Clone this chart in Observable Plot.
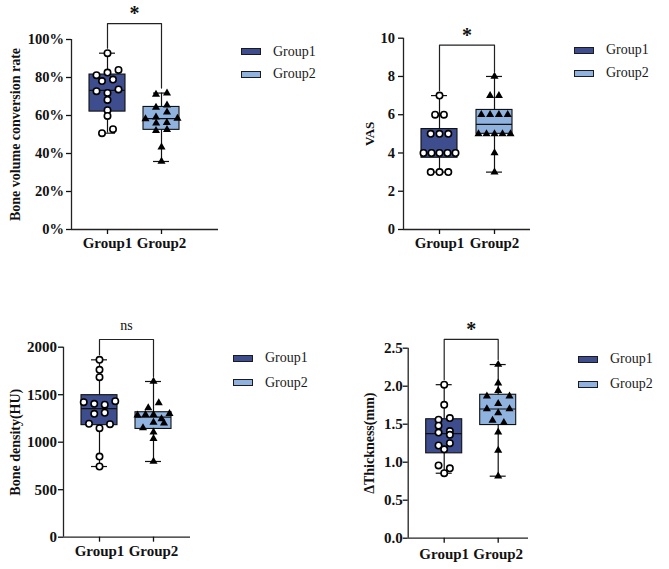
<!DOCTYPE html>
<html><head><meta charset="utf-8">
<script src="https://cdn.jsdelivr.net/npm/d3@7"></script>
<script src="https://cdn.jsdelivr.net/npm/@observablehq/plot@0.6"></script>
<style>
body{margin:0;background:#fff;}
#fig{position:relative;width:669px;height:569px;overflow:hidden;font-family:"Liberation Serif","Times New Roman",serif;background:#fff;}
.sw{position:absolute;width:18px;height:5px;border:1px solid #1b1b1b;}
.lt{position:absolute;font-size:14px;line-height:14px;color:#1a1a1a;white-space:nowrap;}
</style></head><body><div id="fig"></div>
<script>
// ---------- data ----------
const groups = ["Group1", "Group2"];
const groupColors = ["#3d4d8d", "#8fb2de"];

const boneVolG1 = [92.8, 81.2, 82.6, 84.0, 78.1, 78.9, 72.8, 71.9, 73.7, 68.2, 62.8, 59.8, 50.7, 52.8];
const boneVolG2 = [71.1, 71.8, 64.2, 65.4, 59.1, 61.8, 58.2, 56.0, 56.2, 58.5, 52.0, 52.6, 43.3, 35.8];

const vasG1 = [7, 6, 6, 5, 5, 5, 4, 4, 4, 4, 4, 3, 3, 3];
const vasG2 = [8, 7, 7, 6, 6, 6, 6, 5, 5, 5, 5, 5, 4, 3];

const densityG1 = [1867, 1762, 1684, 1421, 1404, 1395, 1432, 1299, 1310, 1194, 1148, 1190, 849, 744];
const densityG2 = [1639, 1362, 1414, 1285, 1291, 1291, 1245, 1300, 1151, 1207, 1200, 1105, 1036, 797];

const thickG1 = [2.02, 1.755, 1.56, 1.58, 1.48, 1.41, 1.39, 1.36, 1.22, 1.25, 1.17, 0.957, 0.92, 0.855];
const thickG2 = [2.285, 2.04, 1.87, 1.94, 1.87, 1.70, 1.77, 1.70, 1.65, 1.55, 1.52, 1.395, 1.154, 0.816];

const boneVolTicks = [0, 20, 40, 60, 80, 100];
const vasTicks = [0, 2, 4, 6, 8, 10];
const densityTicks = [0, 500, 1000, 1500, 2000];
const thickTicks = [0, 0.5, 1.0, 1.5, 2.0, 2.5];

const titles = ["Bone volume conversion rate", "VAS", "Bone density(HU)", "\u0394Thickness(mm)"];
const sigLabels = ["*", "*", "ns", "*"];
const sigLevels = [108.4, 9.64, 2081, 2.615];

// ---------- helpers ----------
function quantile6(s, p) {
  const n = s.length, h = (n + 1) * p, lo = Math.floor(h);
  if (lo < 1) return s[0];
  if (lo >= n) return s[n - 1];
  return s[lo - 1] + (h - lo) * (s[lo] - s[lo - 1]);
}
// row-centred scatter offsets in px (GraphPad-like)
function dodge(vals, kY, spacing, thr = 5.5, maxW = 32) {
  const idx = vals.map((v, i) => i).sort((a, b) => vals[b] - vals[a] || a - b);
  const rows = [];
  for (const i of idx) {
    const r = rows[rows.length - 1];
    if (r && (vals[r[0]] - vals[i]) * kY < thr) r.push(i); else rows.push([i]);
  }
  const off = new Array(vals.length).fill(0);
  for (const r of rows) {
    r.sort((a, b) => a - b);
    const m = r.length, s = m > 1 ? Math.min(spacing, maxW / (m - 1)) : 0;
    r.forEach((i, j) => off[i] = (j - (m - 1) / 2) * s);
  }
  return off;
}

const fig = document.getElementById("fig");

function makePanel(cfg) {
  const {left, top, width, height, ml, mt, mr, mb, yMax, unit} = cfg;
  const x0 = -36 / unit, x1 = x0 + (width - ml - mr) / unit;
  const kY = (height - mt - mb) / yMax;
  const half = 18 / unit, capHalf = 8 / unit;
  const stats = [], pts = [[], []], caps = [];
  [cfg.g1, cfg.g2].forEach((vals, gi) => {
    const s = vals.slice().sort((a, b) => a - b);
    const st = {c: gi, min: s[0], max: s[s.length - 1], q1: quantile6(s, 0.25), med: quantile6(s, 0.5), q3: quantile6(s, 0.75), bx1: gi - half, bx2: gi + half};
    stats.push(st);
    caps.push({v: st.min, a: gi - capHalf, b: gi + capHalf}, {v: st.max, a: gi - capHalf, b: gi + capHalf});
    const off = dodge(vals, kY, cfg.spacing);
    vals.forEach((v, i) => pts[gi].push({x: gi + off[i] / unit, y: v}));
  });
  const pad = 5 / kY;
  const bTop = cfg.sigLevel;
  const bracket = [{x: 0, y: stats[0].max + pad}, {x: 0, y: bTop}, {x: 1, y: bTop}, {x: 1, y: stats[1].max + pad}];
  const isNs = cfg.sig === "ns";
  const svg = Plot.plot({
    width, height, marginLeft: ml, marginTop: mt, marginRight: mr, marginBottom: mb,
    x: {domain: [x0, x1]},
    y: {domain: [0, yMax]},
    style: {fontFamily: "'Liberation Serif', 'Times New Roman', serif", overflow: "visible", background: "transparent", maxWidth: "none", color: "#111"},
    marks: [
      Plot.ruleY([0], {x1: x0, x2: x1, stroke: "#222", strokeWidth: 1.3}),
      Plot.ruleX([x0], {y1: 0, y2: yMax, stroke: "#222", strokeWidth: 1.3}),
      Plot.axisY({ticks: cfg.ticks, tickFormat: cfg.fmt, tickSize: 5, tickPadding: cfg.tp, fontSize: cfg.yfs, fontWeight: "bold", label: null, strokeWidth: 1.3}),
      Plot.axisX({ticks: [0, 1], tickFormat: i => groups[i], tickSize: 5, tickPadding: cfg.xtp, fontSize: 15, fontWeight: "bold", label: null, strokeWidth: 1.3}),
      Plot.ruleX(stats, {x: "c", y1: "min", y2: "max", stroke: "#111", strokeWidth: 1.2}),
      Plot.ruleY(caps, {y: "v", x1: "a", x2: "b", stroke: "#111", strokeWidth: 1.2}),
      Plot.rect([stats[0]], {x1: "bx1", x2: "bx2", y1: "q1", y2: "q3", fill: groupColors[0], stroke: "#111", strokeWidth: 1.1}),
      Plot.rect([stats[1]], {x1: "bx1", x2: "bx2", y1: "q1", y2: "q3", fill: groupColors[1], stroke: "#111", strokeWidth: 1.1}),
      Plot.ruleY(stats, {y: "med", x1: "bx1", x2: "bx2", stroke: "#111", strokeWidth: 1.2}),
      Plot.dot(pts[0], {x: "x", y: "y", symbol: "circle", r: 3.2, fill: "white", stroke: "#000", strokeWidth: 1.6}),
      Plot.dot(pts[1], {x: "x", y: "y", symbol: "triangle", r: 3.0, fill: "#000", stroke: "none"}),
      Plot.line(bracket, {x: "x", y: "y", stroke: "#222", strokeWidth: 1.2}),
      Plot.text([cfg.sig], {x: 0.5, y: bTop, text: d => d, dy: isNs ? -13.5 : -9.6, fontSize: isNs ? 14 : 20, fontWeight: isNs ? "normal" : "bold", fill: "#111"}),
      Plot.text([cfg.title], {frameAnchor: "left", textAnchor: "middle", lineAnchor: "middle", dx: cfg.tdx, rotate: -90, text: d => d, fontSize: cfg.tfs, fontWeight: "bold", fill: "#111"})
    ]
  });
  svg.style.position = "absolute";
  svg.style.left = left + "px";
  svg.style.top = top + "px";
  fig.appendChild(svg);
}

function legend(swL, c1, c2, txL) {
  [c1, c2].forEach((c, i) => {
    const sw = document.createElement("div");
    sw.className = "sw";
    sw.style.left = swL + "px";
    sw.style.top = (c - 3.5) + "px";
    sw.style.background = groupColors[i];
    fig.appendChild(sw);
    const t = document.createElement("div");
    t.className = "lt";
    t.style.left = txL + "px";
    t.style.top = (c - 7) + "px";
    t.textContent = groups[i];
    fig.appendChild(t);
  });
}

makePanel({g1: boneVolG1, g2: boneVolG2, yMax: 100, ticks: boneVolTicks, fmt: d => d + "%", title: titles[0], sig: sigLabels[0], sigLevel: sigLevels[0],
  left: 0, top: 0, width: 230, height: 262, ml: 71, mt: 39, mr: 12, mb: 33, unit: 54, spacing: 11, tp: 2.5, xtp: 3, yfs: 14.5, tfs: 14, tdx: -56});
makePanel({g1: vasG1, g2: vasG2, yMax: 10, ticks: vasTicks, fmt: d => String(d), title: titles[1], sig: sigLabels[1], sigLevel: sigLevels[1],
  left: 330, top: 0, width: 210, height: 262, ml: 73, mt: 37.7, mr: 10, mb: 33, unit: 55, spacing: 8.8, tp: 3.5, xtp: 3, yfs: 14.5, tfs: 13, tdx: -34});
makePanel({g1: densityG1, g2: densityG2, yMax: 2000, ticks: densityTicks, fmt: d => String(d), title: titles[2], sig: sigLabels[2], sigLevel: sigLevels[2],
  left: 0, top: 300, width: 230, height: 269, ml: 63, mt: 46.7, mr: 40, mb: 32.3, unit: 54, spacing: 10.5, tp: 1.5, xtp: 3, yfs: 15, tfs: 14, tdx: -48});
makePanel({g1: thickG1, g2: thickG2, yMax: 2.5, ticks: thickTicks, fmt: d3.format(".1f"), title: titles[3], sig: sigLabels[3], sigLevel: sigLevels[3],
  left: 330, top: 300, width: 210, height: 269, ml: 77.7, mt: 47.7, mr: 12, mb: 31.3, unit: 54, spacing: 11.3, tp: 0.5, xtp: 5, yfs: 15, tfs: 14, tdx: -38.7});

legend(241, 51.5, 74, 273);
legend(574, 50, 73.3, 606);
legend(233, 358.3, 382.7, 265);
legend(578, 359.3, 384.3, 610);
</script>
</body></html>
